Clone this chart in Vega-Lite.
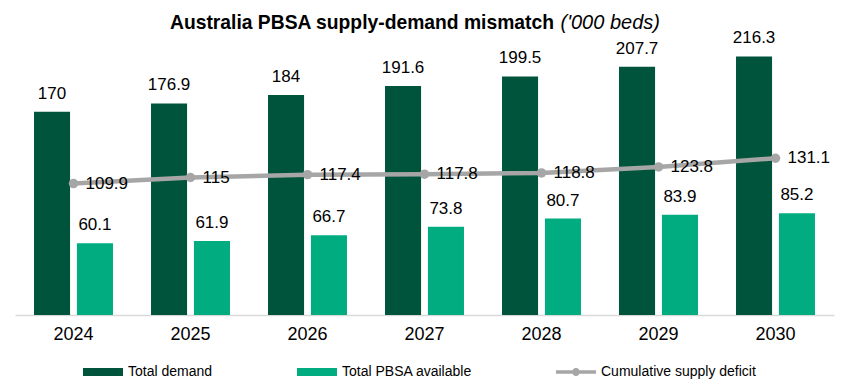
{
  "$schema": "https://vega.github.io/schema/vega-lite/v6.json",
  "width": 819,
  "height": 275,
  "autosize": {"type": "none"},
  "padding": {"left": 15, "top": 40, "right": 10, "bottom": 69},
  "background": "white",
  "config": {"view": {"stroke": null}, "font": "Liberation Sans"},
  "title": {
    "text": "Australia PBSA supply-demand mismatch",
    "anchor": "start",
    "dx": 155,
    "dy": 24,
    "offset": -12,
    "baseline": "alphabetic",
    "fontSize": 19.3,
    "fontWeight": "bold",
    "color": "black",
    "font": "Liberation Sans"
  },
  "data": {
    "values": [
      {"year": 2024, "series": "Total demand", "value": 170},
      {"year": 2024, "series": "Total PBSA available", "value": 60.1},
      {"year": 2024, "series": "Cumulative supply deficit", "value": 109.9},
      {"year": 2025, "series": "Total demand", "value": 176.9},
      {"year": 2025, "series": "Total PBSA available", "value": 61.9},
      {"year": 2025, "series": "Cumulative supply deficit", "value": 115},
      {"year": 2026, "series": "Total demand", "value": 184},
      {"year": 2026, "series": "Total PBSA available", "value": 66.7},
      {"year": 2026, "series": "Cumulative supply deficit", "value": 117.4},
      {"year": 2027, "series": "Total demand", "value": 191.6},
      {"year": 2027, "series": "Total PBSA available", "value": 73.8},
      {"year": 2027, "series": "Cumulative supply deficit", "value": 117.8},
      {"year": 2028, "series": "Total demand", "value": 199.5},
      {"year": 2028, "series": "Total PBSA available", "value": 80.7},
      {"year": 2028, "series": "Cumulative supply deficit", "value": 118.8},
      {"year": 2029, "series": "Total demand", "value": 207.7},
      {"year": 2029, "series": "Total PBSA available", "value": 83.9},
      {"year": 2029, "series": "Cumulative supply deficit", "value": 123.8},
      {"year": 2030, "series": "Total demand", "value": 216.3},
      {"year": 2030, "series": "Total PBSA available", "value": 85.2},
      {"year": 2030, "series": "Cumulative supply deficit", "value": 131.1}
    ]
  },
  "encoding": {
    "x": {
      "field": "year",
      "type": "ordinal",
      "scale": {"paddingInner": 0.325, "paddingOuter": 0.1625},
      "axis": {
        "title": null,
        "labelAngle": 0,
        "labelFontSize": 18,
        "labelColor": "black",
        "labelPadding": 10,
        "ticks": false,
        "domainColor": "#D9D9D9",
        "domainWidth": 1.5,
        "grid": false
      }
    },
    "y": {
      "field": "value",
      "type": "quantitative",
      "scale": {"domain": [0, 230]},
      "axis": {
        "title": "('000 beds)",
        "labels": false,
        "ticks": false,
        "domain": false,
        "grid": false,
        "titleAngle": 0,
        "titleX": 545,
        "titleY": -12,
        "titleAlign": "left",
        "titleBaseline": "alphabetic",
        "titleFontSize": 20,
        "titleFontStyle": "italic",
        "titleFontWeight": "normal",
        "titleColor": "black",
        "titleFont": "Liberation Sans"
      }
    }
  },
  "layer": [
    {
      "transform": [{"filter": "datum.series !== 'Cumulative supply deficit'"}],
      "mark": {"type": "bar"},
      "encoding": {
        "xOffset": {
          "field": "series",
          "type": "nominal",
          "scale": {"domain": ["Total demand", "Total PBSA available"], "paddingInner": 0.16}
        },
        "color": {
          "field": "series",
          "type": "nominal",
          "scale": {
            "domain": ["Total demand", "Total PBSA available", "Cumulative supply deficit"],
            "range": ["#00543C", "#00AC80", "#A6A6A6"]
          },
          "legend": {
            "title": null,
            "orient": "none",
            "legendX": 68,
            "legendY": 312,
            "direction": "horizontal",
            "columnPadding": 84,
            "labelFontSize": 14,
            "labelColor": "black",
            "labelOffset": 5,
            "symbolSize": 1600,
            "symbolStrokeWidth": 0,
            "encode": {
              "symbols": {
                "update": {
                  "shape": {"signal": "datum.value === 'Cumulative supply deficit' ? 'M-1,-0.09H1V0.09H-1Z M0.2,0A0.2,0.2,0,1,1,-0.2,0A0.2,0.2,0,1,1,0.2,0Z' : 'M-1,-0.2H1V0.2H-1Z'"},
                  "fill": {"signal": "scale('color', datum.value)"},
                  "opacity": {"value": 1}
                }
              }
            }
          }
        }
      }
    },
    {
      "transform": [{"filter": "datum.series !== 'Cumulative supply deficit'"}],
      "mark": {"type": "text", "dy": -13, "baseline": "alphabetic", "fontSize": 17, "color": "black"},
      "encoding": {
        "xOffset": {
          "field": "series",
          "type": "nominal",
          "scale": {"domain": ["Total demand", "Total PBSA available"], "paddingInner": 0.16}
        },
        "text": {"field": "value", "type": "quantitative"}
      }
    },
    {
      "transform": [{"filter": "datum.series === 'Cumulative supply deficit'"}],
      "mark": {"type": "line", "strokeWidth": 4.5},
      "encoding": {
        "color": {"field": "series", "type": "nominal"}
      }
    },
    {
      "transform": [{"filter": "datum.series === 'Cumulative supply deficit'"}],
      "mark": {"type": "point", "filled": true, "size": 90, "opacity": 1},
      "encoding": {
        "color": {"field": "series", "type": "nominal"}
      }
    },
    {
      "transform": [{"filter": "datum.series === 'Cumulative supply deficit'"}],
      "mark": {"type": "text", "align": "left", "dx": 12, "baseline": "middle", "fontSize": 17, "color": "black"},
      "encoding": {
        "text": {"field": "value", "type": "quantitative"}
      }
    }
  ]
}
